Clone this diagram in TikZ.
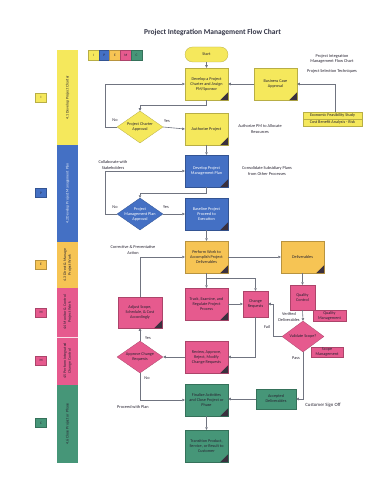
\documentclass[tikz,border=0pt]{standalone}
\usepackage{fontspec}
\setmainfont{Carlito}
\usetikzlibrary{shapes.geometric,arrows.meta}
\definecolor{cY}{RGB}{245,232,92}
\definecolor{cB}{RGB}{68,112,196}
\definecolor{cO}{RGB}{246,196,84}
\definecolor{cP}{RGB}{230,90,142}
\definecolor{cG}{RGB}{70,150,120}
\definecolor{cDark}{RGB}{58,48,62}
\definecolor{cArr}{RGB}{112,116,128}
\definecolor{cTxt}{RGB}{40,36,50}
\definecolor{cTitle}{RGB}{50,52,70}
\newcommand\bxfont{\fontsize{4.2}{5}\selectfont}
\newcommand\lbfont{\fontsize{4.3}{5.2}\selectfont}
\newcommand\lanefont{\fontsize{3.9}{4.6}\selectfont}
\newcommand\crn[1]{\fill[cDark] (#1.south east) -- ++(-8pt,0pt) -- ++(8pt,8pt) -- cycle;}
\tikzset{
  arr/.style={draw=cArr, line width=0.6pt, -{Triangle[length=2.6pt,width=2.4pt]}},
  box/.style={draw=#1!75!black, line width=0.3pt, fill=#1, minimum width=43pt, minimum height=32pt, inner sep=0.5pt, align=center, font=\bxfont, text=cTxt},
  dia/.style={diamond, draw=#1!75!black, line width=0.3pt, fill=#1, minimum width=46pt, minimum height=32pt, inner sep=0pt, aspect=1.44},
  dtext/.style={align=center, font=\bxfont, text=cTxt, inner sep=0pt},
  lbl/.style={align=center, font=\lbfont, text=cTxt, inner sep=0pt},
  lanetxt/.style={rotate=90, align=center, font=\lanefont, text=cTxt, inner sep=0pt},
  tag/.style={draw=#1!75!black, line width=0.3pt, fill=#1, minimum width=11pt, minimum height=9pt, inner sep=0pt, font=\fontsize{3.5}{4}\selectfont, text=cTxt},
  leg/.style={draw=#1!75!black, line width=0.3pt, fill=#1, minimum width=10.8pt, minimum height=10pt, inner sep=0pt, font=\fontsize{3.5}{4}\selectfont, text=cTxt},
}
\begin{document}
\begin{tikzpicture}[x=1pt,y=-1pt]
\useasboundingbox[fill=white] (0,0) rectangle (378,500);

% title
\node[font=\fontsize{7.5}{9}\selectfont\bfseries, text=cTitle] (title) at (212.5,32) {Project Integration Management Flow Chart};

% legend
\node[leg=cY] (lgI) at (93.4,55) {I};
\node[leg=cB] (lgP) at (104.2,55) {P};
\node[leg=cO] (lgE) at (115,55) {E};
\node[leg=cP] (lgM) at (125.8,55) {M};
\node[leg=cG] (lgC) at (136.6,55) {C};

% left tags
\node[tag=cY] (tI) at (41,97.5) {I};
\node[tag=cB] (tP) at (41,193) {P};
\node[tag=cO] (tE) at (41,264.5) {E};
\node[tag=cP] (tM1) at (41,312.5) {M};
\node[tag=cP] (tM2) at (41,360.5) {M};
\node[tag=cG] (tC) at (41,423) {C};

% swimlanes
\fill[cY] (57,50) rectangle (78,145);
\fill[cB] (57,145) rectangle (78,242);
\fill[cO] (57,242) rectangle (78,288);
\fill[cP] (57,288) rectangle (78,385);
\fill[cG] (57,385) rectangle (78,463);
\draw[white!80!cP, line width=0.3pt] (57,337) -- (78,337);
\node[lanetxt] (ln1) at (67.5,97.5) {4.1 Develop Project Charter};
\node[lanetxt, text=white!85!cB] (ln2) at (67.5,193.5) {4.2 Develop Project Management Plan};
\node[lanetxt] (ln3) at (67.5,265) {4.3 Direct \& Manage\\Project Work};
\node[lanetxt] (ln4) at (67.5,312.5) {4.4 Monitor \& Control\\Project Work};
\node[lanetxt] (ln5) at (67.5,361) {4.5 Perform Integrated\\Change Control};
\node[lanetxt] (ln6) at (67.5,424) {4.6 Close Project or Phase};

% nodes
\node[box=cY, minimum height=15pt, rounded corners=7.5pt] (start) at (206.5,54.5) {Start};
\node[box=cY] (charter) at (206.5,84) {Develop a Project\\Charter and Assign\\PM/Sponsor};
\crn{charter}
\node[box=cY] (bizcase) at (275.5,84) {Business Case\\Approval};
\crn{bizcase}
\node[box=cY, minimum width=59pt, minimum height=7pt] (econ) at (332.5,115.5) {Economic Feasibility Study};
\node[box=cY, minimum width=59pt, minimum height=7pt] (cost) at (332.5,122.5) {Cost Benefit Analysis - Risk};
\node[dia=cY] (a1) at (140,127) {};
\node[dtext] (a1t) at (a1) {Project Charter\\Approval};
\node[box=cY] (authorize) at (206.5,129) {Authorize Project};
\crn{authorize}

\node[box=cB, text=white] (devpm) at (206.5,171) {Develop Project\\Management Plan};
\crn{devpm}
\node[dia=cB] (a2) at (140,214) {};
\node[dtext, text=white] (a2t) at (a2) {Project\\Management Plan\\Approval};
\node[box=cB, text=white] (baseline) at (206.5,214) {Baseline Project\\Proceed to\\Execution};
\crn{baseline}

\node[box=cO] (perform) at (206.5,257) {Perform Work to\\Accomplish Project\\Deliverables};
\crn{perform}
\node[box=cO] (deliver) at (302.5,257) {Deliverables};
\crn{deliver}

\node[box=cP] (track) at (206.5,304) {Track, Examine, and\\Regulate Project\\Process};
\crn{track}
\node[box=cP, minimum width=25pt, minimum height=26pt] (changereq) at (255.5,304) {Change\\Requests};
\node[box=cP, minimum width=44pt, minimum height=31pt] (adjust) at (140,312.5) {Adjust Scope,\\Schedule, \& Cost\\Accordingly};
\crn{adjust}
\node[box=cP, minimum width=25pt, minimum height=25pt] (qc) at (302.5,297.5) {Quality\\Control};
\node[box=cP, minimum width=33pt, minimum height=11pt] (qm) at (329.5,315.5) {Quality\\Management};
\node[dia=cP, minimum width=42pt, minimum height=31pt] (val) at (303,336.5) {};
\node[dtext] (valt) at (val) {Validate Scope?};
\node[box=cP, minimum width=32pt, minimum height=10pt] (sm) at (327,352) {Scope\\Management};

\node[box=cP] (review) at (206.5,357) {Review, Approve,\\Reject, Modify\\Change Requests};
\crn{review}
\node[dia=cP] (a3) at (140,357) {};
\node[dtext] (a3t) at (a3) {Approve Change\\Requests};

\node[box=cG] (finalize) at (206.5,400) {Finalize Activities\\and Close Project or\\Phase};
\crn{finalize}
\node[box=cG, minimum width=40pt, minimum height=20pt] (accepted) at (276,399) {Accepted\\Deliverables};
\node[box=cG] (transition) at (206.5,446) {Transition Product,\\Service, or Result to\\Customer};
\crn{transition}

% free labels
\node[lbl] (t1) at (332,59) {Project Integration\\Management Flow Chart};
\node[lbl] (t2) at (332,71) {Project Selection Techniques};
\node[lbl] (t3) at (260,129) {Authorize PM to Allocate\\Resources};
\node[lbl] (t4) at (267,171) {Consolidate Subsidiary Plans\\from Other Processes};
\node[lbl] (t5) at (113,165) {Collaborate with\\Stakeholders};
\node[lbl] (t6) at (133,250) {Corrective \& Preventative\\Action};
\node[lbl] (t7) at (133,407) {Proceed with Plan};
\node[lbl, font=\fontsize{4.8}{5.5}\selectfont] (t8) at (323,405) {Customer Sign Off};
\node[lbl] (t9) at (289,317) {Verified\\Deliverables};
\node[lbl] (no1) at (115,120) {No};
\node[lbl] (yes1) at (167,121) {Yes};
\node[lbl] (no2) at (115,207) {No};
\node[lbl] (yes2) at (166,207) {Yes};
\node[lbl] (yes3) at (148,338) {Yes};
\node[lbl] (no3) at (147,378) {No};
\node[lbl] (fail) at (267,327) {Fail};
\node[lbl] (pass) at (296,358) {Pass};

% connectors
\draw[arr] (start) -- (charter);
\draw[arr] (bizcase) -- (charter);
\draw[arr] ([xshift=2.5pt]econ.north) |- (bizcase.east);
\draw[arr] (charter.south) -- ++(0,5) -| (a1.north);
\draw[arr] (a1.west) -- ++(-12,0) |- (charter.west);
\draw[arr] (a1.east) -- (authorize.west);
\draw[arr] (authorize) -- (devpm);
\draw[arr] (devpm.south) -- ++(0,6) -| (a2.north);
\draw[arr] (a2.west) -- ++(-12,0) |- (devpm.west);
\draw[arr] (a2.east) -- (baseline.west);
\draw[arr] (baseline) -- (perform);
\draw[arr] (perform) -- (deliver);
\draw[arr] (perform) -- (track);
\draw[arr] (perform.south) -- ++(0,5) -| (changereq.north);
\draw[arr] (track) -- (changereq);
\draw[arr] (changereq.south) |- (review.east);
\draw[arr] (review.west) -- (a3.east);
\draw[arr] (a3.north) -- (adjust.south);
\draw[arr] (adjust.north) |- (perform.west);
\draw[arr] (a3.south) |- (finalize.west);
\draw[arr] (deliver) -- (qc);
\draw[arr] (qc.south) -- (val.north);
\draw[arr] (val.west) -- ++(-9,0) |- (changereq.east);
\draw[arr] (val.south) |- (accepted.east);
\draw[arr] (accepted.west) -- (accepted.west -| finalize.east);
\draw[arr] (finalize) -- (transition);
\end{tikzpicture}
\end{document}
